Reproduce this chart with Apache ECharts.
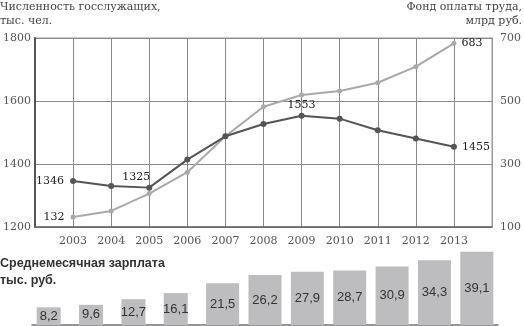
<!DOCTYPE html>
<html><head><meta charset="utf-8">
<script src="https://cdn.jsdelivr.net/npm/echarts@6/dist/echarts.min.js"></script>
<style>html,body{margin:0;padding:0;background:#fff}#c{width:524px;height:326px}</style>
</head><body><div id="c"></div>
<script>
const years = [2003, 2004, 2005, 2006, 2007, 2008, 2009, 2010, 2011, 2012, 2013];
const staff = [1346, 1330, 1325, 1414, 1488, 1527, 1553, 1544, 1507, 1481, 1455];
const wageFund = [132, 151, 206, 274, 388, 482, 519, 532, 558, 609, 683];
const salary = [8.2, 9.6, 12.7, 16.1, 21.5, 26.2, 27.9, 28.7, 30.9, 34.3, 39.1];
const leftTicks = [1200, 1400, 1600, 1800];
const rightTicks = [100, 300, 500, 700];

const serif = "'DejaVu Serif',serif";
const sans = "'Liberation Sans Narrow','Liberation Sans',sans-serif";

const staffLabels = {0: {position: 'left', distance: 6}, 2: {position: 'top', offset: [-13, 0], distance: 2}, 6: {position: 'top', distance: 2}, 10: {position: 'right', distance: 5}};
const fundLabels = {0: {position: 'left', distance: 6}, 10: {position: 'right', distance: 5}};

function mk(vals, labels) {
  return vals.map((v, i) => {
    const it = {value: [years[i], v]};
    if (labels[i]) it.label = Object.assign({show: true}, labels[i]);
    return it;
  });
}
const lblStyle = {fontFamily: serif, fontSize: 11, color: '#222', formatter: p => String(p.value[1])};
const titleStyle = {fontFamily: serif, fontSize: 11, fontWeight: 'normal', color: '#444', lineHeight: 13};

const chart = echarts.init(document.getElementById('c'));
chart.setOption({
  animation: false,
  textStyle: {fontFamily: serif},
  title: [
    {text: 'Численность госслужащих,', left: 0, top: 1, padding: 0, textStyle: titleStyle},
    {text: 'тыс. чел.', left: 0, top: 15, padding: 0, textStyle: titleStyle},
    {text: 'Фонд оплаты труда,', right: 2, top: 1, padding: 0, textStyle: titleStyle},
    {text: 'млрд руб.', right: 2, top: 15, padding: 0, textStyle: titleStyle},
    {text: 'Среднемесячная зарплата\nтыс. руб.', left: 0, top: 255, padding: 0, textStyle: {fontFamily: "'Liberation Sans',sans-serif", fontSize: 12.5, fontWeight: 'bold', color: '#333', lineHeight: 17}}
  ],
  grid: [
    {left: 32, right: 27, top: 38, bottom: 99, show: true, borderColor: '#9a9a9a', borderWidth: 1},
    {left: 32, right: 26, top: 241, bottom: 1}
  ],
  xAxis: [
    {type: 'value', gridIndex: 0, min: 2002, max: 2014, interval: 1,
     axisLine: {show: true, lineStyle: {color: '#666', width: 1.5}}, axisTick: {show: false},
     axisLabel: {margin: 9, fontFamily: serif, fontSize: 11, color: '#555', formatter: v => (v < years[0] || v > years[years.length - 1]) ? '' : String(v)},
     splitLine: {show: true, lineStyle: {color: '#8a8a8a', width: 1}}},
    {type: 'category', gridIndex: 1, data: years.map(String),
     axisLine: {show: true, onZero: false, lineStyle: {color: '#777', width: 1.5}}, axisTick: {show: false}, axisLabel: {show: false}}
  ],
  yAxis: [
    {type: 'value', gridIndex: 0, min: leftTicks[0], max: leftTicks[leftTicks.length - 1], interval: 200, position: 'left',
     axisLine: {show: true, lineStyle: {color: '#555', width: 2}}, axisTick: {show: false},
     axisLabel: {margin: 4, fontFamily: serif, fontSize: 11, color: '#555', formatter: v => String(v)},
     splitLine: {show: true, lineStyle: {color: '#8a8a8a', width: 1}}},
    {type: 'value', gridIndex: 0, min: rightTicks[0], max: rightTicks[rightTicks.length - 1], interval: 200, position: 'right',
     axisLine: {show: true, lineStyle: {color: '#9a9a9a', width: 1}}, axisTick: {show: false},
     axisLabel: {margin: 8, fontFamily: serif, fontSize: 11, color: '#555', formatter: v => String(v)},
     splitLine: {show: false}},
    {type: 'value', gridIndex: 1, min: -1.6, max: 45, startValue: -1.6, show: false, splitLine: {show: false}}
  ],
  series: [
    {type: 'line', xAxisIndex: 0, yAxisIndex: 1, data: mk(wageFund, fundLabels), symbol: 'circle', symbolSize: 5,
     lineStyle: {color: '#a9a9a9', width: 2}, itemStyle: {color: '#a9a9a9'}, label: Object.assign({show: false}, lblStyle), z: 3},
    {type: 'line', xAxisIndex: 0, yAxisIndex: 0, data: mk(staff, staffLabels), symbol: 'circle', symbolSize: 6,
     lineStyle: {color: '#555', width: 2}, itemStyle: {color: '#555'}, label: Object.assign({show: false}, lblStyle), z: 4},
    {type: 'bar', xAxisIndex: 1, yAxisIndex: 2, barWidth: 24, barGap: '-100%',
     data: salary.map((v, i) => i < 4 ? v : '-'),
     itemStyle: {color: '#bdbdbf'},
     label: {show: true, position: 'inside', fontFamily: sans, fontSize: 13, color: '#333', formatter: p => String(p.value).replace('.', ',')}},
    {type: 'bar', xAxisIndex: 1, yAxisIndex: 2, barWidth: 33, barGap: '-100%',
     data: salary.map((v, i) => i < 4 ? '-' : v),
     itemStyle: {color: '#bdbdbf'},
     label: {show: true, position: 'inside', fontFamily: sans, fontSize: 13, color: '#333', formatter: p => String(p.value).replace('.', ',')}}
  ]
});
</script></body></html>
